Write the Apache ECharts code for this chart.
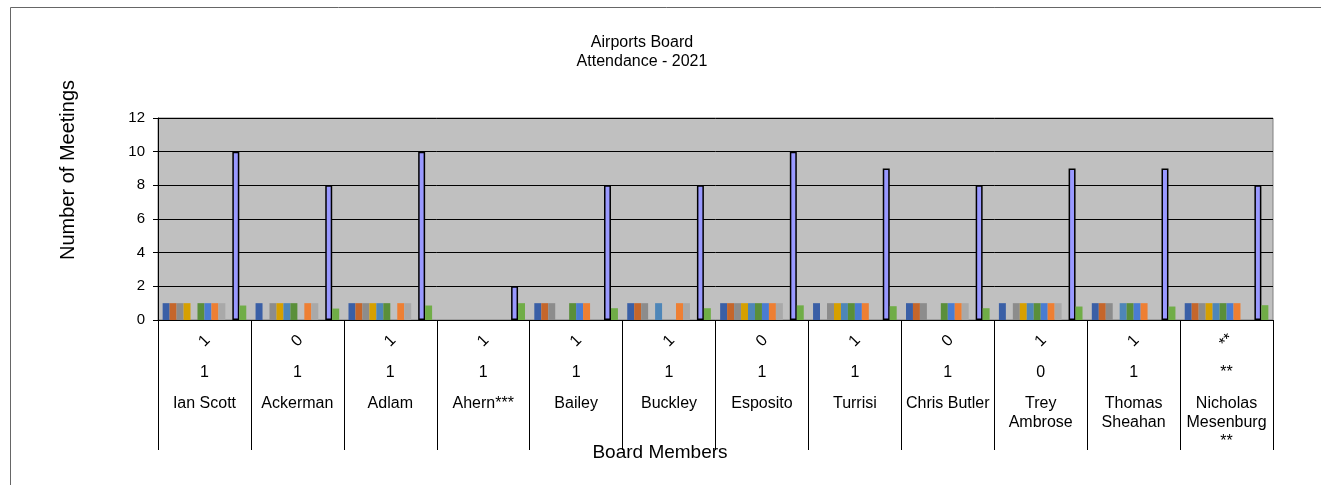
<!DOCTYPE html>
<html>
<head>
<meta charset="utf-8">
<script src="https://cdn.jsdelivr.net/npm/echarts@6/dist/echarts.min.js"></script>
<style>
html,body{margin:0;padding:0;background:#fff;}
#c{width:1321px;height:485px;}
</style>
</head>
<body>
<div id="c"></div>
<script>
// ---- data ----
const members = ['Ian Scott','Ackerman','Adlam','Ahern***','Bailey','Buckley','Esposito','Turrisi','Chris Butler','Trey\nAmbrose','Thomas\nSheahan','Nicholas\nMesenburg\n**'];
const labelRow1 = ['1','0','1','1','1','1','0','1','0','1','1','**'];
const labelRow2 = ['1','1','1','1','1','1','1','1','1','0','1','**'];
const meeting1 = [1,1,1,0,1,1,1,1,1,1,1,1];
const meeting2 = [1,0,1,0,1,1,1,0,1,0,1,1];
const meeting3 = [1,1,1,0,1,1,1,1,1,1,1,1];
const meeting4 = [1,1,1,0,0,0,1,1,0,1,0,1];
const meeting5 = [0,1,1,0,0,1,1,1,0,1,1,1];
const meeting6 = [1,1,1,0,1,0,1,1,1,1,1,1];
const meeting7 = [1,0,0,0,1,0,1,1,1,1,1,1];
const meeting8 = [1,1,1,0,1,1,1,1,1,1,1,1];
const meeting9 = [1,1,1,0,0,1,1,0,1,1,0,0];
const meeting10 = [0,0,0,0,0,0,0,0,0,0,0,0];
const totals = [10,8,10,2,8,8,10,9,8,9,9,8];
const ratio = [0.86,0.68,0.86,1.0,0.7,0.7,0.87,0.82,0.7,0.8,0.8,0.88];
const yTicks = {min:0, max:12, interval:2};

const meetingSeries = [meeting1,meeting2,meeting3,meeting4,meeting5,meeting6,meeting7,meeting8,meeting9,meeting10];
const meetingColors = ['#3A5FA6','#C5662B','#8C8C8C','#D6A000','#4E86B8','#5A8F3A','#4A7CD2','#EE7F33','#A9A9A9','#C0C0C0'];

const FONT = 'Liberation Sans, Arial, sans-serif';
const chart = echarts.init(document.getElementById('c'), null, {renderer:'canvas'});

const series = meetingSeries.map((d,i)=>({
  name:'Meeting '+(i+1), type:'bar', data:d, barGap:'0%', barCategoryGap:'10%',
  itemStyle:{color:meetingColors[i]}, silent:true
}));
series.push({name:'Total', type:'bar', data:totals, barGap:'0%', barCategoryGap:'10%',
  itemStyle:{color:'#9999FF', borderColor:'#000', borderWidth:1.5}, silent:true});
series.push({name:'Ratio', type:'bar', data:ratio, barGap:'0%', barCategoryGap:'10%',
  itemStyle:{color:'#70AD47'}, silent:true});

chart.setOption({
  animation:false,
  backgroundColor:'#fff',
  textStyle:{fontFamily:FONT},
  title:[
    {text:'Airports Board\nAttendance - 2021', left:637, top:28, textAlign:'center',
     textStyle:{fontFamily:FONT, fontSize:16, fontWeight:'normal', color:'#000', lineHeight:19}},
    {text:'Board Members', left:655, top:438, textAlign:'center',
     textStyle:{fontFamily:FONT, fontSize:19, fontWeight:'normal', color:'#000'}}
  ],
  graphic:[
    {type:'rect', shape:{x:10.5, y:7.5, width:1400, height:700}, style:{fill:null, stroke:'#666', lineWidth:1}, silent:true, z:-1},
    {type:'text', x:68, y:170, rotation:Math.PI/2,
     style:{text:'Number of Meetings', font:'20px '+FONT, fill:'#000', align:'center', verticalAlign:'middle'}}
  ],
  grid:{left:158, top:118, width:1115, height:202, show:true, backgroundColor:'#C0C0C0', borderColor:'#808080', borderWidth:1, outerBoundsMode:'none', containLabel:false},
  xAxis:[
    {type:'category', data:members, position:'bottom',
     axisLine:{lineStyle:{color:'#000', width:1}},
     axisTick:{show:true, length:130, interval:0, lineStyle:{color:'#000'}},
     axisLabel:{interval:0, margin:74, fontSize:16, lineHeight:19, color:'#000', fontFamily:FONT, hideOverlap:false}},
    {type:'category', data:labelRow2, position:'bottom',
     axisLine:{show:false}, axisTick:{show:false},
     axisLabel:{interval:0, margin:45, fontSize:16, color:'#000', fontFamily:FONT}},
    {type:'category', data:labelRow1, position:'bottom',
     axisLine:{show:false}, axisTick:{show:false},
     axisLabel:{interval:0, margin:21, rotate:45, align:'center', verticalAlign:'middle', fontSize:16, color:'#000', fontFamily:FONT}}
  ],
  yAxis:{type:'value', min:yTicks.min, max:yTicks.max, interval:yTicks.interval,
    axisLine:{show:true, lineStyle:{color:'#000'}},
    axisTick:{show:true, length:5, lineStyle:{color:'#000'}},
    axisLabel:{margin:13, fontSize:15, color:'#000', fontFamily:FONT},
    splitLine:{show:true, lineStyle:{color:'#000', width:1}}},
  series:series
});
</script>
</body>
</html>
